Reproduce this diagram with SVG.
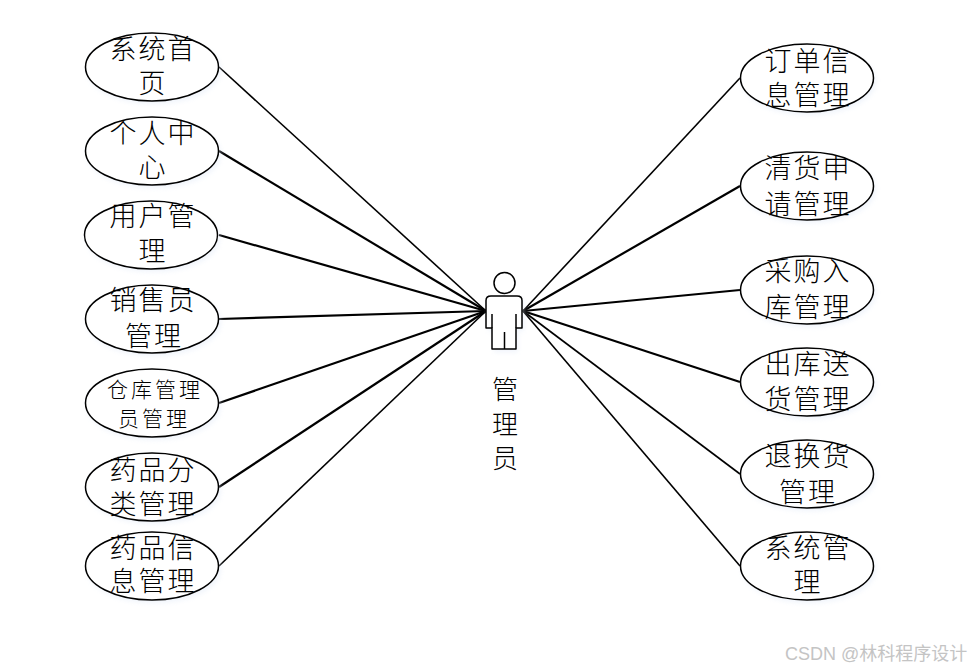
<svg xmlns="http://www.w3.org/2000/svg" width="973" height="671" viewBox="0 0 973 671">
<defs><filter id="s" x="-10%" y="-10%" width="125%" height="130%"><feGaussianBlur stdDeviation="2.5"/></filter></defs>
<style>
.e{fill:#fff;stroke:#000;stroke-width:1.5}
.h{fill:#dfe8f7;opacity:.45;filter:url(#s)}
.t{font-family:"Noto Sans CJK SC","Liberation Serif",serif;font-size:27px;font-weight:300;fill:#000;text-anchor:middle;letter-spacing:2px}
.m{font-size:21px;letter-spacing:3px}
.c line{stroke:#000;stroke-width:1.6}
.c line.b{stroke-width:2.2}
.a{fill:#fff;stroke:#000;stroke-width:1.5;stroke-linejoin:round}
.w{font-family:"Liberation Sans","Noto Sans CJK SC",sans-serif;font-size:18px;fill:#c4c4c4}
</style>
<rect width="973" height="671" fill="#fff"/>
<g id="connectors" class="c">
<line x1="219" y1="67" x2="486" y2="311"/>
<line class="b" x1="219" y1="151" x2="486" y2="311"/>
<line class="b" x1="219" y1="235" x2="486" y2="311"/>
<line class="b" x1="219" y1="319" x2="486" y2="311"/>
<line class="b" x1="219" y1="403" x2="486" y2="311"/>
<line class="b" x1="219" y1="487" x2="486" y2="311"/>
<line x1="219" y1="566" x2="486" y2="311"/>
<line x1="740" y1="78" x2="523" y2="311"/>
<line class="b" x1="740" y1="186" x2="523" y2="311"/>
<line class="b" x1="740" y1="290" x2="523" y2="311"/>
<line class="b" x1="740" y1="382" x2="523" y2="311"/>
<line x1="740" y1="474" x2="523" y2="311"/>
<line x1="740" y1="566" x2="523" y2="311"/>
</g>
<g id="n1"><ellipse class="h" cx="154" cy="70" rx="67" ry="34"/><ellipse class="e" cx="152" cy="67" rx="66.5" ry="34"/><text class="t" x="153" y="59">系统首</text><text class="t" x="153" y="93">页</text></g>
<g id="n2"><ellipse class="h" cx="154" cy="154" rx="67" ry="34"/><ellipse class="e" cx="152" cy="151" rx="66.5" ry="34"/><text class="t" x="153" y="143">个人中</text><text class="t" x="153" y="177">心</text></g>
<g id="n3"><ellipse class="h" cx="153" cy="238" rx="67" ry="34"/><ellipse class="e" cx="151" cy="235" rx="66.5" ry="34"/><text class="t" x="153" y="226">用户管</text><text class="t" x="153" y="261">理</text></g>
<g id="n4"><ellipse class="h" cx="154" cy="322" rx="67" ry="34"/><ellipse class="e" cx="152" cy="319" rx="66.5" ry="34"/><text class="t" x="153" y="310">销售员</text><text class="t" x="154" y="346">管理</text></g>
<g id="n5"><ellipse class="h" cx="154" cy="406" rx="67" ry="34"/><ellipse class="e" cx="152" cy="403" rx="66.5" ry="34"/><text class="t m" x="155" y="397">仓库管理</text><text class="t m" x="154" y="426">员管理</text></g>
<g id="n6"><ellipse class="h" cx="154" cy="490" rx="67" ry="34"/><ellipse class="e" cx="152" cy="487" rx="66.5" ry="34"/><text class="t" x="153" y="480">药品分</text><text class="t" x="153" y="514">类管理</text></g>
<g id="n7"><ellipse class="h" cx="154" cy="569" rx="67" ry="34"/><ellipse class="e" cx="152" cy="566" rx="66.5" ry="34"/><text class="t" x="153" y="558">药品信</text><text class="t" x="153" y="591">息管理</text></g>
<g id="n8"><ellipse class="h" cx="809" cy="81" rx="67" ry="34"/><ellipse class="e" cx="807" cy="78" rx="66.5" ry="34"/><text class="t" x="808" y="71">订单信</text><text class="t" x="808" y="105">息管理</text></g>
<g id="n9"><ellipse class="h" cx="809" cy="189" rx="67" ry="34"/><ellipse class="e" cx="807" cy="186" rx="66.5" ry="34"/><text class="t" x="808" y="178">清货申</text><text class="t" x="808" y="214">请管理</text></g>
<g id="n10"><ellipse class="h" cx="809" cy="293" rx="67" ry="34"/><ellipse class="e" cx="807" cy="290" rx="66.5" ry="34"/><text class="t" x="808" y="281">采购入</text><text class="t" x="808" y="317">库管理</text></g>
<g id="n11"><ellipse class="h" cx="809" cy="385" rx="67" ry="34"/><ellipse class="e" cx="807" cy="382" rx="66.5" ry="34"/><text class="t" x="808" y="374">出库送</text><text class="t" x="808" y="409">货管理</text></g>
<g id="n12"><ellipse class="h" cx="809" cy="477" rx="67" ry="34"/><ellipse class="e" cx="807" cy="474" rx="66.5" ry="34"/><text class="t" x="808" y="466">退换货</text><text class="t" x="808" y="502">管理</text></g>
<g id="n13"><ellipse class="h" cx="809" cy="569" rx="67" ry="34"/><ellipse class="e" cx="807" cy="566" rx="66.5" ry="34"/><text class="t" x="808" y="558">系统管</text><text class="t" x="808" y="592">理</text></g>
<g id="actor">
<path d="M490 300 Q490 296 494 296 H518 Q522 296 522 300 V328 H516 V349 H492 V328 H486 V300 Z" transform="translate(2 3)" class="h"/>
<circle class="a" cx="504.500" cy="283" r="10.500"/>
<path class="a" d="M486 300.500 Q486 296 491 296 H517 Q522 296 522 300.500 V328 H516 V349 H492 V328 H486 Z"/>
<path d="M492 314 V328 M516 314 V328 M504.500 332 V349" fill="none" stroke="#000" stroke-width="1.500"/>
<text class="t" x="506" y="399" style="font-size:26px">管</text>
<text class="t" x="506" y="434" style="font-size:26px">理</text>
<text class="t" x="506" y="468" style="font-size:26px">员</text>
</g>
<text class="w" x="785" y="660">CSDN @林科程序设计</text>
</svg>
